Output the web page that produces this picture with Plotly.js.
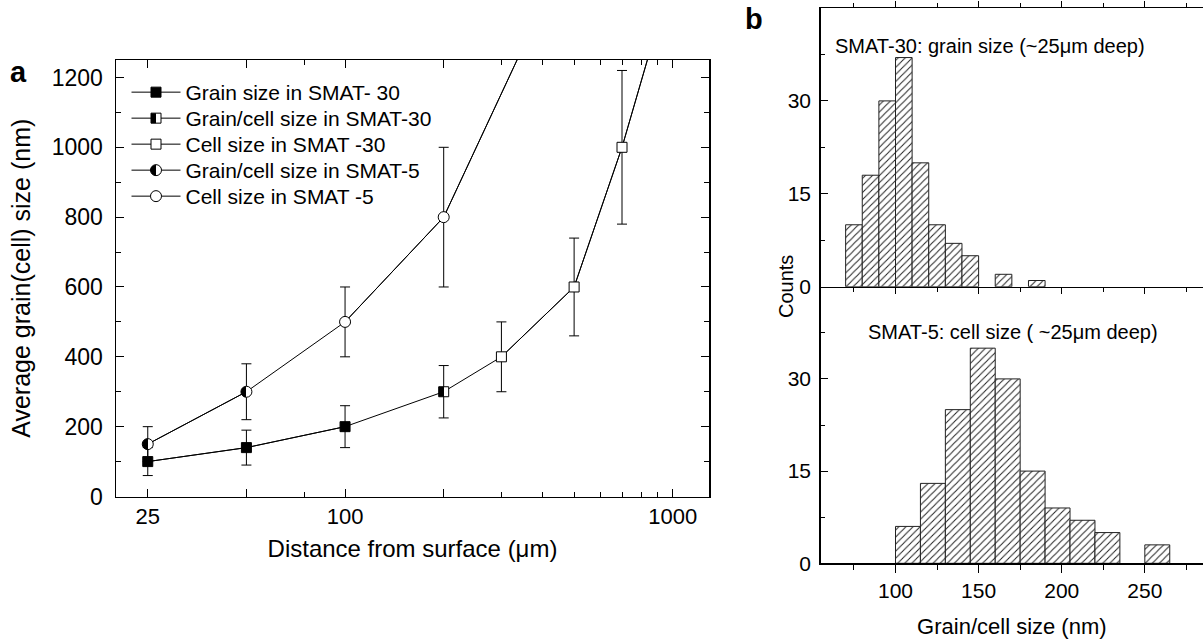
<!DOCTYPE html>
<html>
<head>
<meta charset="utf-8">
<script src="https://cdn.plot.ly/plotly-3.0.1.min.js"></script>
<style>html,body{margin:0;padding:0;background:#fff;}#chart{width:1203px;height:644px;}</style>
</head>
<body>
<div id="chart"></div>
<script>
// ---- Panel a data ----
const grain30X = [25, 50, 100];
const grain30Y = [100, 140, 200];
const grain30Err = [40, 50, 60];

const gc30X = [200];
const gc30Y = [300];
const gc30Err = [75];

const cell30X = [300, 500, 700, 1000];
const cell30Y = [400, 600, 1000, 1500];
const cell30Err = [100, 140, 220, 0];

const gc5X = [25, 50];
const gc5Y = [150, 300];
const gc5Err = [50, 80];

const cell5X = [100, 200, 500];
const cell5Y = [500, 800, 1600];
const cell5Err = [100, 200, 0];

const seriesNames = [
  "Grain size in SMAT- 30",
  "Grain/cell size in SMAT-30",
  "Cell size in SMAT -30",
  "Grain/cell size in SMAT-5",
  "Cell size in SMAT -5"
];

// ---- Panel b data ----
const topBinCenters = [75, 85, 95, 105, 115, 125, 135, 145, 165, 185];
const topCounts = [10, 18, 30, 37, 20, 10, 7, 5, 2, 1];
const botBinCenters = [107.5, 122.5, 137.5, 152.5, 167.5, 182.5, 197.5, 212.5, 227.5, 257.5];
const botCounts = [6, 13, 25, 35, 30, 15, 9, 7, 5, 3];

const aTickVals = [25, 50, 100, 200, 1000];
const aTickText = ["25", "", "100", "", "1000"];
const aMinorVals = [75, 300, 400, 500, 600, 700, 800, 900];

const FONT = "Liberation Sans, Arial, Helvetica, sans-serif";
const W = 1203, H = 644;

const line30X = grain30X.concat(gc30X, cell30X);
const line30Y = grain30Y.concat(gc30Y, cell30Y);
const line5X = gc5X.concat(cell5X);
const line5Y = gc5Y.concat(cell5Y);

function errBar(arr) {
  return {type: "data", array: arr, visible: true, color: "#000", thickness: 1, width: 5};
}
// kind: "filled" | "open" | "half" (left half black)
function series(idx, x, y, err, symbol, kind) {
  const m = {symbol: symbol, size: symbol === "square" ? 10 : 11,
             color: kind === "open" ? "#fff" : "#000",
             line: {color: "#000", width: 1}};
  if (kind === "half") m.gradient = {type: "horizontal", color: "#fff"};
  return {x: x, y: y, name: seriesNames[idx], type: "scatter", mode: "lines+markers",
          legend: idx === 0 ? "legend" : "legend" + (idx + 1),
          xaxis: "x", yaxis: "y", line: {color: "#000", width: 1},
          marker: m, error_y: errBar(err)};
}

const data = [
  {x: line30X, y: line30Y, type: "scatter", mode: "lines", showlegend: false,
   xaxis: "x", yaxis: "y", line: {color: "#000", width: 1}, hoverinfo: "skip"},
  {x: line5X, y: line5Y, type: "scatter", mode: "lines", showlegend: false,
   xaxis: "x", yaxis: "y", line: {color: "#000", width: 1}, hoverinfo: "skip"},
  series(0, grain30X, grain30Y, grain30Err, "square", "filled"),
  series(1, gc30X, gc30Y, gc30Err, "square", "half"),
  series(2, cell30X, cell30Y, cell30Err, "square", "open"),
  series(3, gc5X, gc5Y, gc5Err, "circle", "half"),
  series(4, cell5X, cell5Y, cell5Err, "circle", "open"),
  {x: topBinCenters, y: topCounts, type: "bar", width: 10, xaxis: "x3", yaxis: "y3",
   showlegend: false,
   marker: {color: "#fff", line: {color: "#222", width: 1},
            pattern: {shape: "/", fgcolor: "#222", bgcolor: "#fff", size: 5, solidity: 0.2}}},
  {x: botBinCenters, y: botCounts, type: "bar", width: 15, xaxis: "x2", yaxis: "y2",
   showlegend: false,
   marker: {color: "#fff", line: {color: "#222", width: 1},
            pattern: {shape: "/", fgcolor: "#222", bgcolor: "#fff", size: 5, solidity: 0.2}}}
];

function F(size) { return {family: FONT, size: size, color: "#000"}; }
const axCommon = {showline: true, linecolor: "#000", linewidth: 1.5, showgrid: false, zeroline: false,
                  tickcolor: "#000", tickfont: F(21)};

function legendAt(row) {
  return {x: 126.5 / W, y: 1 - (92.5 + 26 * row) / H, xanchor: "left", yanchor: "middle",
          bgcolor: "rgba(0,0,0,0)", borderwidth: 0, itemwidth: 49, font: F(21)};
}

const layout = {
  width: W, height: H,
  margin: {l: 0, r: 0, t: 0, b: 0},
  paper_bgcolor: "#fff", plot_bgcolor: "#fff",
  font: {family: FONT, color: "#000"},
  showlegend: true,
  legend: legendAt(0), legend2: legendAt(1), legend3: legendAt(2), legend4: legendAt(3), legend5: legendAt(4),
  bargap: 0,
  xaxis: Object.assign({}, axCommon, {
    domain: [116 / W, 709 / W], anchor: "y", type: "log",
    range: [Math.log10(20), Math.log10(1290)],
    tickmode: "array", tickvals: aTickVals, ticktext: aTickText, tickfont: F(22),
    ticks: "inside", ticklen: 8, mirror: "ticks", ticklabelstandoff: 0,
    minor: {tickmode: "array", tickvals: aMinorVals, ticks: "inside", ticklen: 5, tickcolor: "#000"},
    title: {text: "Distance from surface (\u03bcm)", font: F(24), standoff: 12}
  }),
  yaxis: Object.assign({}, axCommon, {
    domain: [1 - 496.5 / H, 1 - 60 / H], anchor: "x",
    range: [0, 1250], tickmode: "array", tickvals: [0, 200, 400, 600, 800, 1000, 1200], tickfont: F(23),
    ticks: "inside", ticklen: 8, mirror: "ticks", ticklabelstandoff: 7,
    minor: {tickmode: "array", tickvals: [100, 300, 500, 700, 900, 1100], ticks: "inside", ticklen: 5, tickcolor: "#000"},
    title: {text: "Average grain(cell) size (nm)", font: F(25), standoff: 14}
  }),
  xaxis2: Object.assign({}, axCommon, {
    domain: [820.7 / W, 1], anchor: "y2", range: [55, 285],
    tickmode: "array", tickvals: [100, 150, 200, 250], ticks: "outside", ticklen: 8,
    minor: {tickmode: "array", tickvals: [75, 125, 175, 225, 275], ticks: "outside", ticklen: 5, tickcolor: "#000"},
    title: {text: "Grain/cell size (nm)", font: F(22), standoff: 17}
  }),
  yaxis2: Object.assign({}, axCommon, {
    domain: [1 - 563.3 / H, 1 - 286.7 / H], anchor: "x2", range: [0, 45],
    tickmode: "array", tickvals: [0, 15, 30], ticks: "inside", ticklen: 7, ticklabelstandoff: 4,
    minor: {tickmode: "array", tickvals: [7.5, 22.5, 37.5], ticks: "inside", ticklen: 4, tickcolor: "#000"}
  }),
  xaxis3: Object.assign({}, axCommon, {
    domain: [820.7 / W, 1], anchor: "y3", range: [55, 285], matches: "x2",
    tickmode: "array", tickvals: [100, 150, 200, 250], showticklabels: false,
    ticks: "outside", ticklen: 6, mirror: "ticks",
    minor: {tickmode: "array", tickvals: [75, 125, 175, 225, 275], ticks: "outside", ticklen: 4, tickcolor: "#000"}
  }),
  yaxis3: Object.assign({}, axCommon, {
    domain: [1 - 286.7 / H, 1 - 8 / H], anchor: "x3", range: [0, 45],
    tickmode: "array", tickvals: [0, 15, 30], ticks: "inside", ticklen: 7, ticklabelstandoff: 4,
    minor: {tickmode: "array", tickvals: [7.5, 22.5, 37.5], ticks: "inside", ticklen: 4, tickcolor: "#000"}
  }),
  annotations: [
    {text: "<b>a</b>", xref: "paper", yref: "paper", x: 18 / W, y: 1 - 72 / H, showarrow: false,
     font: F(29), xanchor: "center", yanchor: "middle"},
    {text: "<b>b</b>", xref: "paper", yref: "paper", x: 754 / W, y: 1 - 19 / H, showarrow: false,
     font: F(29), xanchor: "center", yanchor: "middle"},
    {text: "SMAT-30: grain size (~25\u03bcm deep)", xref: "paper", yref: "paper", x: 833 / W, y: 1 - 46 / H,
     showarrow: false, xanchor: "left", yanchor: "middle", font: F(20)},
    {text: "SMAT-5: cell size ( ~25\u03bcm deep)", xref: "paper", yref: "paper", x: 866 / W, y: 1 - 332 / H,
     showarrow: false, xanchor: "left", yanchor: "middle", font: F(20)},
    {text: "Counts", xref: "paper", yref: "paper", x: 786 / W, y: 1 - 287 / H, textangle: -90,
     showarrow: false, xanchor: "center", yanchor: "middle", font: F(20)}
  ]
};

Plotly.newPlot("chart", data, layout, {staticPlot: true, displayModeBar: false}).then(function () {
  // turn the horizontal marker gradients into a hard half/half split (half-filled symbols)
  document.querySelectorAll("linearGradient").forEach(function (g) {
    g.querySelectorAll("stop").forEach(function (s) { s.setAttribute("offset", "50%"); });
  });
});
</script>
</body>
</html>
